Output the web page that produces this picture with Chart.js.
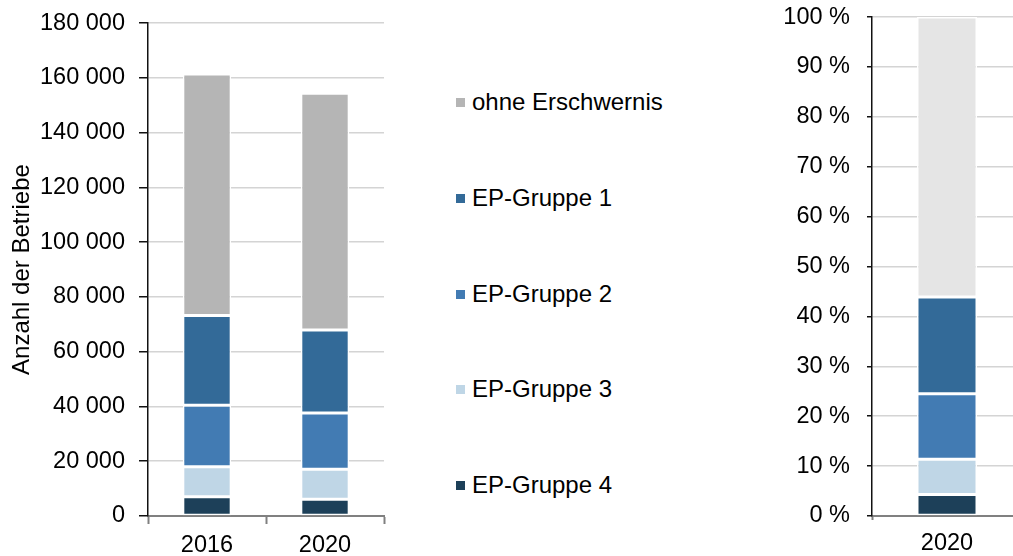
<!DOCTYPE html>
<html>
<head>
<meta charset="utf-8">
<script src="https://cdn.jsdelivr.net/npm/chart.js@4"></script>
<style>
  html, body { margin: 0; padding: 0; background: #fff; }
  body { width: 1013px; height: 556px; overflow: hidden; position: relative; font-family: "Liberation Sans", Arial, sans-serif; }
  #links { position: absolute; left: 0; top: -5px; width: 400px; height: 561px; }
  #rechts { position: absolute; left: 760px; top: -14px; width: 262px; height: 570px; }
  #legende { position: absolute; left: 456px; top: 0; }
  .item { position: absolute; left: 0; white-space: nowrap; font-size: 24px; color: #000; line-height: 26px; }
  .box { position: absolute; left: 0; top: 9px; width: 9px; height: 9px; }
  .item span.t { position: absolute; left: 16px; top: 0; }
</style>
</head>
<body>
<div id="links"><canvas id="absolut"></canvas></div>
<div id="legende"></div>
<div id="rechts"><canvas id="anteil"></canvas></div>
<script>
const jahre = ["2016", "2020"];
const jahrRechts = ["2020"];

// Anzahl der Betriebe, von unten nach oben gestapelt
const gruppe4 = [7000, 6100];
const gruppe3 = [11000, 11000];
const gruppe2 = [22400, 20500];
const gruppe1 = [32800, 30300];
const ohne = [88200, 86500];

// Anteile 2020 in %
const anteil4 = [4.3];
const anteil3 = [7.1];
const anteil2 = [13.1];
const anteil1 = [19.4];
const anteilOhne = [56.1];

const farben = {
    g4: '#1d4059',
    g3: '#bfd6e6',
    g2: '#427bb3',
    g1: '#336a98',
    ohne: '#b5b5b5',
    ohneHell: '#e5e5e5'
};

const schrift = { family: "'Liberation Sans', Arial, sans-serif", size: 23.5 };

function tausender(v) {
    return String(v).replace(/\B(?=(\d{3})+(?!\d))/g, ' ');
}

function balken(label, data, farbe) {
    return {
        label: label,
        data: data,
        backgroundColor: farbe,
        borderColor: '#ffffff',
        borderWidth: 1.5,
        borderSkipped: false
    };
}

const linksConfig = {
    type: 'bar',
    data: {
        labels: jahre,
        datasets: [
            balken('EP-Gruppe 4', gruppe4, farben.g4),
            balken('EP-Gruppe 3', gruppe3, farben.g3),
            balken('EP-Gruppe 2', gruppe2, farben.g2),
            balken('EP-Gruppe 1', gruppe1, farben.g1),
            balken('ohne Erschwernis', ohne, farben.ohne)
        ]
    },
    options: {
        responsive: true,
        maintainAspectRatio: false,
        animation: false,
        layout: { padding: { top: 19, right: 16, left: 0, bottom: 0 } },
        datasets: { bar: { barPercentage: 0.41, categoryPercentage: 1 } },
        plugins: { legend: { display: false }, tooltip: { enabled: false } },
        scales: {
            x: {
                stacked: true,
                afterFit: s => { s.height = 40; },
                grid: { drawOnChartArea: false, tickLength: 8, tickColor: '#808080', tickWidth: 2 },
                border: { color: '#808080', width: 2 },
                ticks: { font: schrift, color: '#000', padding: 7 }
            },
            y: {
                stacked: true,
                min: 0,
                max: 180000,
                afterFit: s => { s.width = 148; },
                ticks: { stepSize: 20000, font: schrift, color: '#000', padding: 14, callback: v => tausender(v) },
                grid: { color: '#d4d4d4', lineWidth: 1.5, tickLength: 9, tickColor: '#111', tickWidth: 1.5 },
                border: { color: '#111', width: 1.5 },
                title: { display: true, text: 'Anzahl der Betriebe', font: { family: schrift.family, size: 24 }, color: '#000', padding: { top: 8, bottom: 0 } }
            }
        }
    }
};

const rechtsConfig = {
    type: 'bar',
    data: {
        labels: jahrRechts,
        datasets: [
            balken('EP-Gruppe 4', anteil4, farben.g4),
            balken('EP-Gruppe 3', anteil3, farben.g3),
            balken('EP-Gruppe 2', anteil2, farben.g2),
            balken('EP-Gruppe 1', anteil1, farben.g1),
            balken('ohne Erschwernis', anteilOhne, farben.ohneHell)
        ]
    },
    options: {
        responsive: true,
        maintainAspectRatio: false,
        animation: false,
        layout: { padding: { top: 4, right: 0, left: 0, bottom: 0 } },
        datasets: { bar: { barPercentage: 0.4, categoryPercentage: 1 } },
        plugins: { legend: { display: false }, tooltip: { enabled: false } },
        scales: {
            x: {
                stacked: true,
                afterFit: s => { s.height = 40; },
                grid: { drawOnChartArea: false, tickLength: 4, tickColor: '#808080', tickWidth: 2 },
                border: { color: '#808080', width: 2 },
                ticks: { font: schrift, color: '#000', padding: 9 }
            },
            y: {
                stacked: true,
                min: 0,
                max: 100,
                afterFit: s => { s.width = 112; },
                ticks: { stepSize: 10, font: schrift, color: '#000', padding: 17, callback: v => v + ' %' },
                grid: { color: '#d4d4d4', lineWidth: 1.5, tickLength: 5, tickColor: '#111', tickWidth: 1.5 },
                border: { color: '#111', width: 1.5 }
            }
        }
    }
};

new Chart(document.getElementById('absolut'), linksConfig);
new Chart(document.getElementById('anteil'), rechtsConfig);

// Legende: oberste Schicht zuerst
const legendeMitte = [102, 198, 294, 389, 485];
const legendeEintraege = linksConfig.data.datasets.slice().reverse();
const legende = document.getElementById('legende');
legendeEintraege.forEach((ds, i) => {
    const el = document.createElement('div');
    el.className = 'item';
    el.style.top = (legendeMitte[i] - 13) + 'px';
    el.innerHTML = '<div class="box" style="background:' + ds.backgroundColor + '"></div><span class="t">' + ds.label + '</span>';
    legende.appendChild(el);
});
</script>
</body>
</html>
